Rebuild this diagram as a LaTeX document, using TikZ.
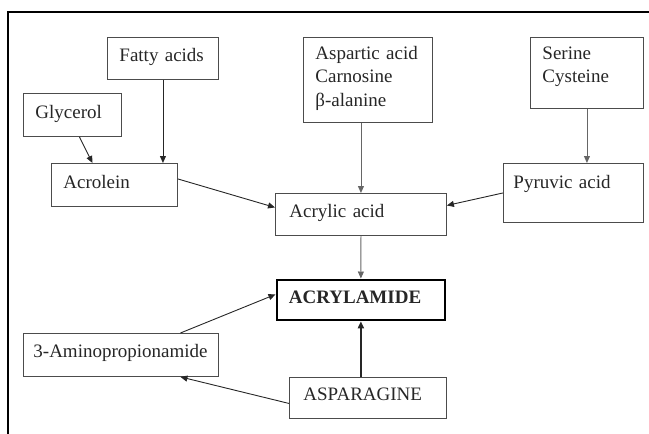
\documentclass[tikz,border=0pt]{standalone}
\usepackage{fontspec}
\setmainfont{Liberation Serif}
\usetikzlibrary{arrows.meta}

\begin{document}
\begin{tikzpicture}[
  x=1pt, y=-1pt,
  >={Triangle[length=7pt,width=6pt]},
  box/.style={draw=black!70, line width=0.9pt, anchor=north west, align=left,
    inner xsep=12pt, inner ysep=0pt, text=black!85,
    font=\fontsize{19}{23.5}\selectfont},
  hub/.style={box, draw=black, line width=2.8pt, font=\fontsize{19}{23.5}\selectfont\bfseries},
  arr/.style={->, line width=0.9pt, black!85},
  frame/.style={line width=2.6pt, black}
]
  \useasboundingbox (0,0) rectangle (649,434);

  % outer frame (cut at right and bottom)
  \draw[frame] (8,434) -- (8,12) -- (649,12);

  % precursors
  \node[box, text width=74pt, text height=25pt, text depth=18pt]  (glycerol) at (23,93)   {Glycerol};
  \node[box, text width=87pt, text height=24pt, text depth=18pt]  (fatty)    at (107,37)  {Fatty acids};
  \node[box, text width=102pt, text height=25pt, text depth=18pt] (acrolein) at (51,163)  {Acrolein};
  \node[box, text width=105pt, text height=22pt, text depth=63pt] (aspartic) at (303,37)
    {Aspartic acid\\Carnosine\\β-alanine};
  \node[box, text width=89pt, text height=22pt, text depth=49pt]  (serine)   at (530,37)  {Serine\\Cysteine};
  \node[box, inner xsep=10pt, text width=120pt, text height=25pt, text depth=34pt] (pyruvic) at (503,163) {Pyruvic acid};

  % middle column
  \node[box, inner xsep=14pt, text width=143pt, text height=24pt, text depth=18pt] (acrylic) at (275,193) {Acrylic acid};
  \node[hub, text width=144pt, text height=24pt, text depth=16pt] (acrylamide) at (275.5,278.5) {ACRYLAMIDE};
  \node[box, inner xsep=10pt, text width=175pt, text height=24pt, text depth=19pt] (amino) at (23,333) {3-Aminopropionamide};
  \node[box, inner xsep=14pt, text width=129pt, text height=23pt, text depth=18pt] (asparagine) at (289,377) {ASPARAGINE};

  % routes
  \draw[arr] ([xshift=7pt]glycerol.south) -- ([xshift=-22pt]acrolein.north);
  \draw[arr] (fatty.south) -- (fatty.south |- acrolein.north);
  \draw[arr] ([yshift=6pt]acrolein.east) -- ([yshift=7pt]acrylic.west);
  \draw[arr, black!60] (aspartic.south -| acrylic.north) -- (acrylic.north);
  \draw[arr, black!60] (serine.south) -- (serine.south |- pyruvic.north);
  \draw[arr] (pyruvic.west) -- ([yshift=9pt]acrylic.east);
  \draw[arr, black!60] (acrylic.south) -- (acrylamide.north);
  \draw[arr, line width=2.6pt] (asparagine.north -| acrylamide.south) -- (acrylamide.south);
  \draw[arr] ([xshift=59.5pt]amino.north) -- ([yshift=5.5pt]acrylamide.west);
  \draw[arr] ([yshift=-5.5pt]asparagine.west) -- ([xshift=59.5pt]amino.south);
\end{tikzpicture}
\end{document}
